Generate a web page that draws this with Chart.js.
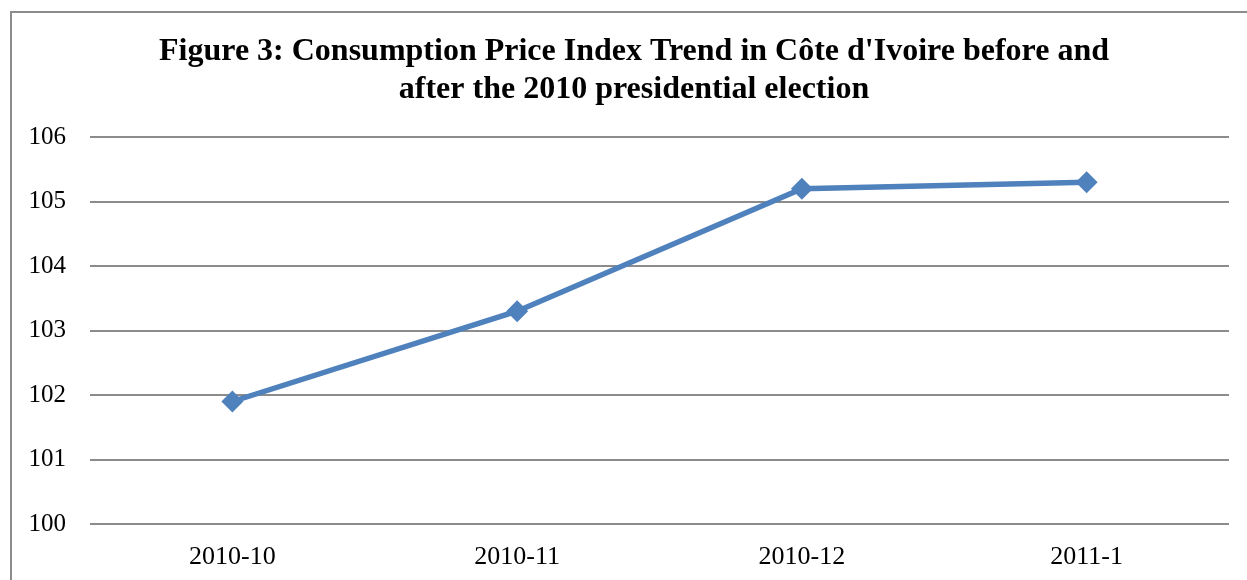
<!DOCTYPE html>
<html>
<head>
<meta charset="utf-8">
<script src="https://cdn.jsdelivr.net/npm/chart.js@4"></script>
<style>
    body { margin: 0; background: #fff; }
    #frame {
        position: absolute; left: 10px; top: 11px; width: 1260px; height: 600px;
        border-left: 2px solid #8c8c8c; border-top: 2px solid #8c8c8c;
    }
    #wrap { position: absolute; left: 0; top: 0; width: 1247px; height: 580px; }
</style>
</head>
<body>
<div id="frame"></div>
<div id="wrap"><canvas id="cpiChart"></canvas></div>
<script>
// Months around the election
const months = ['2010-10', '2010-11', '2010-12', '2011-1'];
// Consumption price index
const cpiValues = [101.9, 103.3, 105.2, 105.3];
const titleLines = ["Figure 3: Consumption Price Index Trend in C\u00f4te d'Ivoire before and", 'after the 2010 presidential election'];

const BLUE = '#4F81BD';
const SERIF = '"Liberation Serif", "Times New Roman", serif';

// The original title sits a bit right of the canvas centre
const titleShift = {
    id: 'titleShift',
    afterLayout(chart) {
        if (chart.titleBlock) chart.titleBlock.left += 39;
    }
};

const ctx = document.getElementById('cpiChart');
new Chart(ctx, {
    type: 'line',
    data: {
        labels: months,
        datasets: [{
            label: 'CPI',
            data: cpiValues,
            borderColor: BLUE,
            backgroundColor: BLUE,
            borderWidth: 5.5,
            tension: 0,
            pointStyle: 'rectRot',
            pointRadius: 11,
            pointHoverRadius: 11,
            pointBorderWidth: 0
        }]
    },
    options: {
        responsive: true,
        maintainAspectRatio: false,
        animation: false,
        layout: { padding: { left: 0, right: 18, top: 0, bottom: 0 } },
        scales: {
            x: {
                offset: true,
                grid: { display: false },
                border: { display: false },
                ticks: {
                    color: '#000',
                    padding: 10,
                    font: { family: SERIF, size: 26 }
                },
                afterFit: function(scale) { scale.height = 56; }
            },
            y: {
                min: 100,
                max: 106,
                grid: { color: '#8c8c8c', lineWidth: 2, drawTicks: false },
                border: { display: false },
                ticks: {
                    stepSize: 1,
                    color: '#000',
                    padding: 24,
                    font: { family: SERIF, size: 25 }
                },
                afterFit: function(scale) { scale.width = 90; }
            }
        },
        plugins: {
            legend: { display: false },
            tooltip: { enabled: false },
            title: {
                display: true,
                text: titleLines,
                color: '#000',
                font: { family: SERIF, size: 32, weight: 'bold', lineHeight: 1.19 },
                padding: { top: 33, bottom: 28 }
            }
        }
    },
    plugins: [titleShift]
});
</script>
</body>
</html>
